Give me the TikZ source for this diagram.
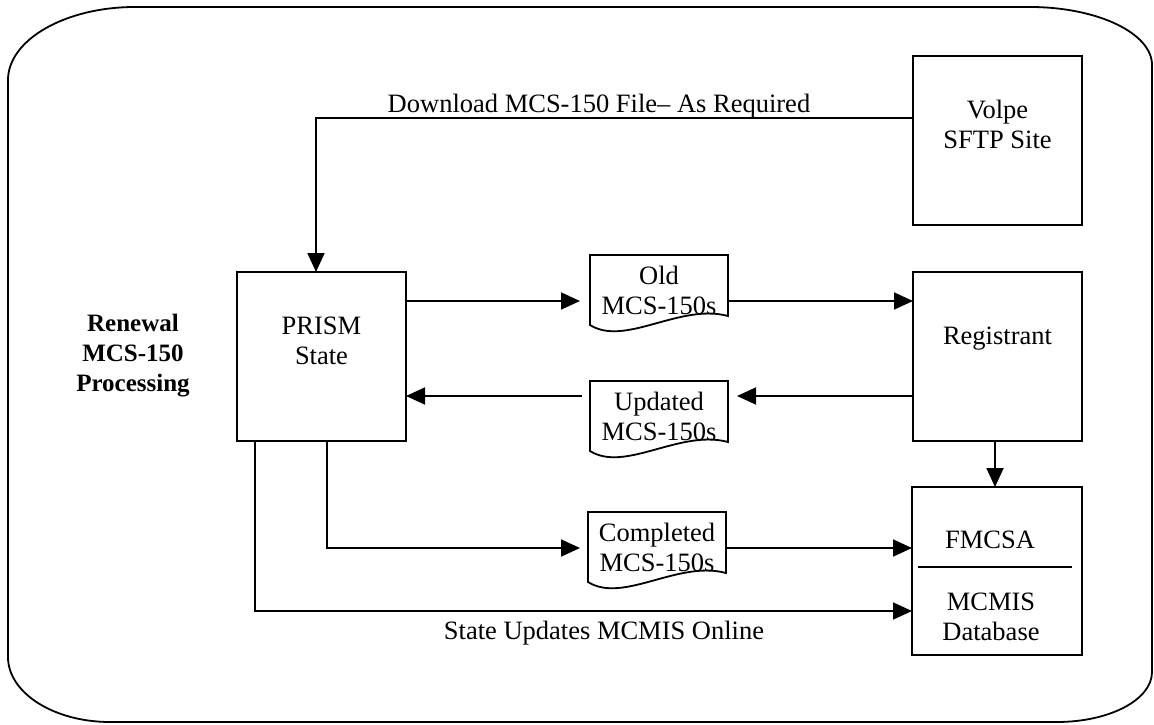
\documentclass[tikz,border=0pt]{standalone}
\usepackage{fontspec}
\setmainfont{Liberation Serif}
\usetikzlibrary{arrows.meta,calc}
\newcommand\docoutline[1]{\draw[line width=1.8pt,line join=miter] (#1.north west) -- (#1.north east) -- ($(#1.south east)+(0,-9)$) .. controls ($(#1.south west)+(90,-22)$) and ($(#1.south west)+(35,22)$) .. (#1.south west) -- cycle;}
\begin{document}
\begin{tikzpicture}[x=1pt,y=-1pt,
  every node/.style={inner sep=0pt, outer sep=0pt},
  lbl/.style={font=\fontsize{26.5}{30}\selectfont, align=center},
  blbl/.style={font=\bfseries\fontsize{25}{30}\selectfont, align=center},
  sqbox/.style={draw, line width=1.8pt, minimum width=169pt, minimum height=169pt},
  docbox/.style={lbl, minimum width=138pt, minimum height=70pt},
  conn/.style={line width=1.8pt, -{Triangle[length=19pt,width=17pt]}},
  frame/.style={line width=1.8pt}]
\useasboundingbox (0,0) rectangle (1154,725);
% outer frame
\draw[frame] (8,80) .. controls (8,40) and (65,7) .. (135,7) -- (1030,7)
  .. controls (1097,7) and (1152,33) .. (1152,65) -- (1152,672)
  .. controls (1152,700) and (1109,722) .. (1057,722) -- (110,722)
  .. controls (54,722) and (8,693) .. (8,657) -- cycle;
% boxes
\node[sqbox] (volpe) at (997.5,140.5) {};
\node[lbl] (volpetxt) at (997.5,124) {Volpe\\SFTP Site};
\node[sqbox] (prism) at (321.5,356.5) {};
\node[lbl] (prismtxt) at (321.5,341) {PRISM\\State};
\node[sqbox] (reg) at (997.5,356.5) {};
\node[lbl] (regtxt) at (997.5,339) {Registrant};
\node[sqbox, minimum width=170pt, minimum height=168pt] (fm) at (997,571) {};
\node[lbl] (fmtxt) at (990,540) {FMCSA};
\node[lbl] (mctxt) at (991,616.5) {MCMIS\\Database};
% documents
\node[docbox] (old) at (659,290) {Old\\MCS-150s};
\node[docbox] (upd) at (659,416) {Updated\\MCS-150s};
\node[docbox] (comp) at (657,547) {Completed\\MCS-150s};
\docoutline{old}
\docoutline{upd}
\docoutline{comp}
% side label
\node[blbl] (renew) at (133,356) {Renewal\\MCS-150\\Processing};
% levels
\coordinate (ydl) at (0,118);
\coordinate (xdl) at (316,0);
\coordinate (yold) at (0,301);
\coordinate (yupd) at (0,396);
\coordinate (ycomp) at (0,548);
\coordinate (ymc) at (0,611);
\coordinate (xc) at (327,0);
\coordinate (xb) at (255,0);
\coordinate (xr) at (995,0);
\coordinate (ydiv) at (0,567);
% divider in FMCSA box
\draw[line width=1.8pt] ($(fm.west |- ydiv)+(6,0)$) -- ($(fm.east |- ydiv)+(-10,0)$);
% connectors
\draw[conn] (volpe.west |- ydl) -| (xdl |- prism.north);
\node[lbl] (dl) at (599,106) {Download MCS-150 File-- As Required};
\draw[conn, shorten >=10pt] (prism.east |- yold) -- (old.west |- yold);
\draw[conn] (old.east |- yold) -- (reg.west |- yold);
\draw[conn, shorten >=9pt] (reg.west |- yupd) -- (upd.east |- yupd);
\draw[conn, shorten <=8pt] (upd.west |- yupd) -- (prism.east |- yupd);
\draw[conn] (xr |- reg.south) -- (xr |- fm.north);
\draw[conn, shorten >=8pt] (xc |- prism.south) |- (comp.west |- ycomp);
\draw[conn] (comp.east |- ycomp) -- (fm.west |- ycomp);
\draw[conn] (xb |- prism.south) |- (fm.west |- ymc);
\node[lbl] (su) at (604,633) {State Updates MCMIS Online};
\end{tikzpicture}
\end{document}
